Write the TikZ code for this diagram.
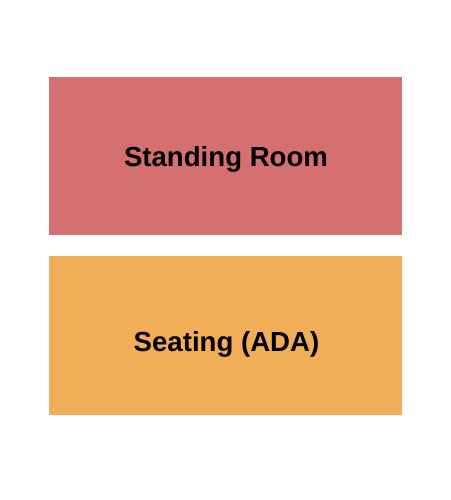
\documentclass[tikz,border=0pt]{standalone}
\usepackage{fontspec}
\setmainfont{Liberation Sans}
\definecolor{standred}{RGB}{214,111,111}
\definecolor{seatorange}{RGB}{242,173,88}
\begin{document}
\begin{tikzpicture}[x=1pt,y=1pt,
  label/.style={font=\fontsize{27.6}{32}\selectfont\bfseries,text=black,inner sep=0pt,anchor=base}]
\useasboundingbox[fill=white] (0,0) rectangle (450,500);
\fill[standred] (49,265) rectangle (402,423);
\node[label] (standing) at (226,333) {Standing Room};
\fill[seatorange] (49,85) rectangle (402,244);
\node[label] (seating) at (226.5,148) {Seating (ADA)};
\end{tikzpicture}
\end{document}
